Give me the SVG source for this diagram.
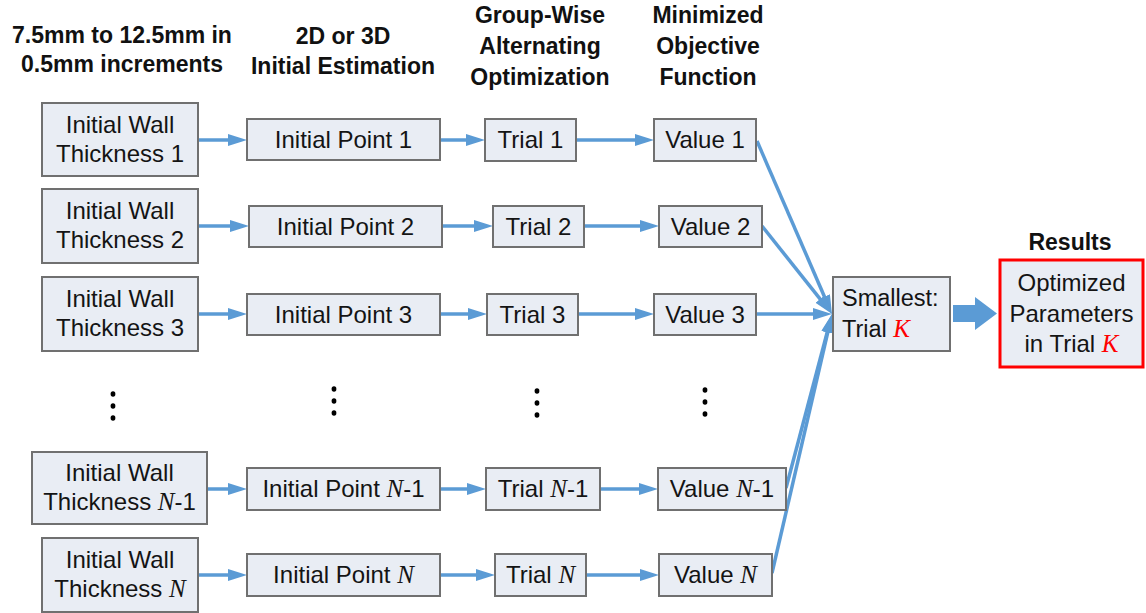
<svg xmlns="http://www.w3.org/2000/svg" width="1146" height="613" viewBox="0 0 1146 613">
<style>
.box{fill:#E9EDF4;stroke:#707070;stroke-width:2}
.res{fill:#E9EDF4;stroke:#FF0000;stroke-width:3}
.t{font-family:"Liberation Sans",Arial,sans-serif;font-size:24px;fill:#141414;text-anchor:middle}
.ts{font-family:"Liberation Sans",Arial,sans-serif;font-size:23.5px;fill:#141414;text-anchor:start}
.h{font-family:"Liberation Sans",Arial,sans-serif;font-size:23px;font-weight:bold;fill:#111;text-anchor:middle}
.m{font-family:"Liberation Serif","Times New Roman",serif;font-style:italic;font-size:25px}
.k{fill:#FF0000}
.c{stroke:#5B9BD5;stroke-width:3.5;fill:none;marker-end:url(#ah)}
.dot{fill:#000}
</style>
<defs>
<marker id="ah" markerUnits="userSpaceOnUse" markerWidth="20" markerHeight="13" refX="11" refY="6" orient="auto"><path d="M0,0 L19,6 L0,12 z" fill="#5B9BD5"/></marker>
</defs>

<g id="headers">
<text class="h" x="122" y="43">7.5mm to 12.5mm in</text>
<text class="h" x="122" y="72">0.5mm increments</text>
<text class="h" x="343" y="44">2D or 3D</text>
<text class="h" x="343" y="74">Initial Estimation</text>
<text class="h" x="540" y="23">Group-Wise</text>
<text class="h" x="540" y="54">Alternating</text>
<text class="h" x="540" y="85">Optimization</text>
<text class="h" x="708" y="23">Minimized</text>
<text class="h" x="708" y="54">Objective</text>
<text class="h" x="708" y="85">Function</text>
<text class="h" x="1070" y="250">Results</text>
</g>

<g id="connectors">
<line class="c" x1="198" y1="140" x2="239" y2="140"/>
<line class="c" x1="440" y1="140" x2="477" y2="140"/>
<line class="c" x1="576" y1="140" x2="646" y2="140"/>
<line class="c" x1="198" y1="226" x2="241" y2="226"/>
<line class="c" x1="442" y1="226" x2="485" y2="226"/>
<line class="c" x1="584" y1="226" x2="651" y2="226"/>
<line class="c" x1="198" y1="314" x2="239" y2="314"/>
<line class="c" x1="440" y1="314" x2="479" y2="314"/>
<line class="c" x1="578" y1="314" x2="646" y2="314"/>
<line class="c" x1="207" y1="489" x2="239" y2="489"/>
<line class="c" x1="440" y1="489" x2="478" y2="489"/>
<line class="c" x1="600" y1="489" x2="650" y2="489"/>
<line class="c" x1="198" y1="575" x2="239" y2="575"/>
<line class="c" x1="440" y1="575" x2="487" y2="575"/>
<line class="c" x1="586" y1="575" x2="651" y2="575"/>
<line class="c" x1="757" y1="141" x2="828.8" y2="306.7"/>
<line class="c" x1="762" y1="226" x2="827" y2="307.7"/>
<line class="c" x1="756" y1="314" x2="824" y2="314"/>
<line class="c" x1="786" y1="488" x2="830" y2="321.7"/>
<line class="c" x1="772" y1="573" x2="830.2" y2="321.8"/>
<polygon points="953,305 975,305 975,297 997,313.5 975,330 975,322 953,322" fill="#5B9BD5"/>
</g>

<g id="wall1"><rect class="box" x="42" y="103" width="156" height="73"/><text class="t" x="120" y="133">Initial Wall</text><text class="t" x="120" y="162">Thickness 1</text></g>
<g id="wall2"><rect class="box" x="42" y="189" width="156" height="74"/><text class="t" x="120" y="219">Initial Wall</text><text class="t" x="120" y="248">Thickness 2</text></g>
<g id="wall3"><rect class="box" x="42" y="277" width="156" height="74"/><text class="t" x="120" y="307">Initial Wall</text><text class="t" x="120" y="336">Thickness 3</text></g>
<g id="wallN1"><rect class="box" x="32" y="452" width="175" height="72"/><text class="t" x="119.5" y="481">Initial Wall</text><text class="t" x="119.5" y="510">Thickness <tspan class="m">N</tspan>-1</text></g>
<g id="wallN"><rect class="box" x="42" y="538" width="156" height="74"/><text class="t" x="120" y="568">Initial Wall</text><text class="t" x="120" y="597">Thickness <tspan class="m">N</tspan></text></g>

<g id="point1"><rect class="box" x="247" y="119" width="193" height="41"/><text class="t" x="343.5" y="148">Initial Point 1</text></g>
<g id="point2"><rect class="box" x="249" y="206" width="193" height="41"/><text class="t" x="345.5" y="235">Initial Point 2</text></g>
<g id="point3"><rect class="box" x="247" y="294" width="193" height="41"/><text class="t" x="343.5" y="323">Initial Point 3</text></g>
<g id="pointN1"><rect class="box" x="247" y="468" width="193" height="42"/><text class="t" x="343.5" y="497">Initial Point <tspan class="m">N</tspan>-1</text></g>
<g id="pointN"><rect class="box" x="247" y="554" width="193" height="42"/><text class="t" x="343.5" y="583">Initial Point <tspan class="m">N</tspan></text></g>

<g id="trial1"><rect class="box" x="485" y="119" width="91" height="42"/><text class="t" x="530.5" y="148">Trial 1</text></g>
<g id="trial2"><rect class="box" x="493" y="206" width="91" height="41"/><text class="t" x="538.5" y="235">Trial 2</text></g>
<g id="trial3"><rect class="box" x="487" y="294" width="91" height="41"/><text class="t" x="532.5" y="323">Trial 3</text></g>
<g id="trialN1"><rect class="box" x="486" y="468" width="114" height="42"/><text class="t" x="543" y="497">Trial <tspan class="m">N</tspan>-1</text></g>
<g id="trialN"><rect class="box" x="495" y="554" width="91" height="42"/><text class="t" x="540.5" y="583">Trial <tspan class="m">N</tspan></text></g>

<g id="value1"><rect class="box" x="654" y="119" width="102" height="42"/><text class="t" x="705" y="148">Value 1</text></g>
<g id="value2"><rect class="box" x="659" y="206" width="103" height="41"/><text class="t" x="710.5" y="235">Value 2</text></g>
<g id="value3"><rect class="box" x="654" y="294" width="102" height="41"/><text class="t" x="705" y="323">Value 3</text></g>
<g id="valueN1"><rect class="box" x="658" y="468" width="128" height="42"/><text class="t" x="722" y="497">Value <tspan class="m">N</tspan>-1</text></g>
<g id="valueN"><rect class="box" x="659" y="554" width="113" height="42"/><text class="t" x="715.5" y="583">Value <tspan class="m">N</tspan></text></g>

<g id="smallest"><rect class="box" x="833" y="277" width="117" height="74"/><text class="ts" x="842" y="306">Smallest:</text><text class="ts" x="842" y="337">Trial <tspan class="m k">K</tspan></text></g>
<g id="result"><rect class="res" x="1000" y="260" width="143" height="107"/><text class="t" x="1071.5" y="291">Optimized</text><text class="t" x="1071.5" y="322">Parameters</text><text class="t" x="1071.5" y="352">in Trial <tspan class="m k">K</tspan></text></g>

<g id="ellipses">
<ellipse class="dot" cx="113" cy="394" rx="2.4" ry="2.8"/><ellipse class="dot" cx="113" cy="406" rx="2.4" ry="2.8"/><ellipse class="dot" cx="113" cy="418" rx="2.4" ry="2.8"/>
<ellipse class="dot" cx="334" cy="389" rx="2.4" ry="2.8"/><ellipse class="dot" cx="334" cy="401" rx="2.4" ry="2.8"/><ellipse class="dot" cx="334" cy="413" rx="2.4" ry="2.8"/>
<ellipse class="dot" cx="537" cy="391" rx="2.4" ry="2.8"/><ellipse class="dot" cx="537" cy="403" rx="2.4" ry="2.8"/><ellipse class="dot" cx="537" cy="415" rx="2.4" ry="2.8"/>
<ellipse class="dot" cx="705" cy="390" rx="2.4" ry="2.8"/><ellipse class="dot" cx="705" cy="402" rx="2.4" ry="2.8"/><ellipse class="dot" cx="705" cy="414" rx="2.4" ry="2.8"/>
</g>
</svg>
